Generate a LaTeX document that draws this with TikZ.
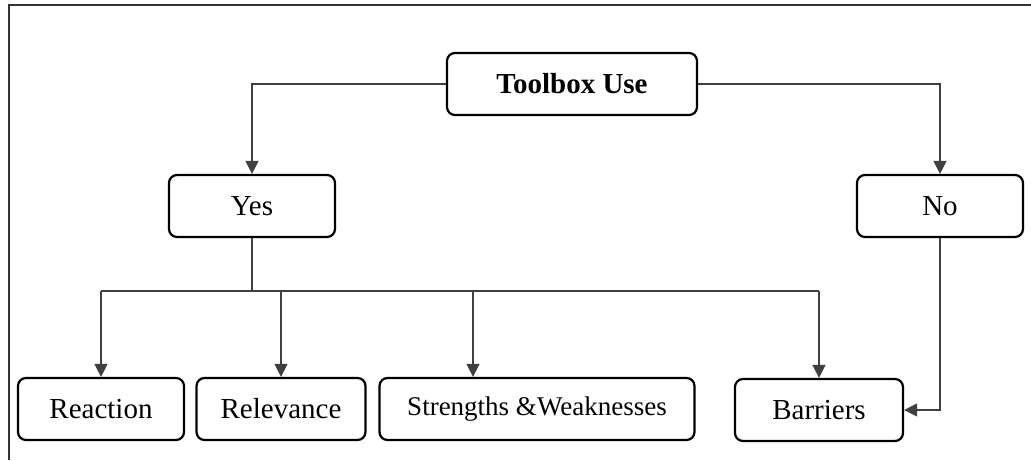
\documentclass[tikz,border=0pt]{standalone}
\usepackage{fontspec}
\setmainfont{Liberation Serif}
\usepackage{tikz}
\usetikzlibrary{positioning, calc, arrows.meta}

\tikzset{
    choice/.style={draw, rounded corners=4pt, line width=1.1pt, minimum height=31pt,
        inner sep=0pt, align=center, font=\fontsize{14.5}{17}\selectfont},
    conn/.style={line width=0.65pt, draw=black!75}
}

\begin{document}
\begin{tikzpicture}[x=0.5pt, y=-0.5pt, >={Triangle[length=6.5pt, width=6.5pt]}]

    \useasboundingbox (0,0) rectangle (1031,460);

    % --- Frame ---
    \draw[line width=0.7pt, black!80] (1031,5) -- (9,5) -- (9,460);

    % --- Top and second level ---
    \node[choice, minimum width=125pt, font=\fontsize{14.5}{17}\selectfont\bfseries] (tool) at (572,84) {Toolbox Use};
    \node[choice, minimum width=83pt] (yes) at (252,206) {Yes};
    \node[choice, minimum width=83pt] (no) at (940,206) {No};

    % --- Bottom row ---
    \node[choice, minimum width=83pt] (reac) at (101,409) {Reaction};
    \node[choice, minimum width=84.5pt] (relv) at (281,409) {Relevance};
    \node[choice, minimum width=157.5pt, font=\fontsize{13.5}{16}\selectfont] (strw) at (537,409) {Strengths \&Weaknesses};
    \node[choice, minimum width=84pt] (barr) at (819,410) {Barriers};

    % --- Bus coordinates ---
    \coordinate (busY) at (252,291);
    \coordinate (stX) at (473,291);

    % --- Connectors ---
    \draw[conn, ->] (tool.west) -| (yes.north);
    \draw[conn, ->] (tool.east) -| (no.north);
    \draw[conn] (yes.south) -- (busY);
    \draw[conn] (reac.north |- busY) -- (barr.north |- busY);
    \draw[conn, ->] (reac.north |- busY) -- (reac.north);
    \draw[conn, ->] (relv.north |- busY) -- (relv.north);
    \draw[conn, ->] (stX) -- (stX |- strw.north);
    \draw[conn, ->] (barr.north |- busY) -- (barr.north);
    \draw[conn, ->] (no.south) |- (barr.east);

\end{tikzpicture}
\end{document}
